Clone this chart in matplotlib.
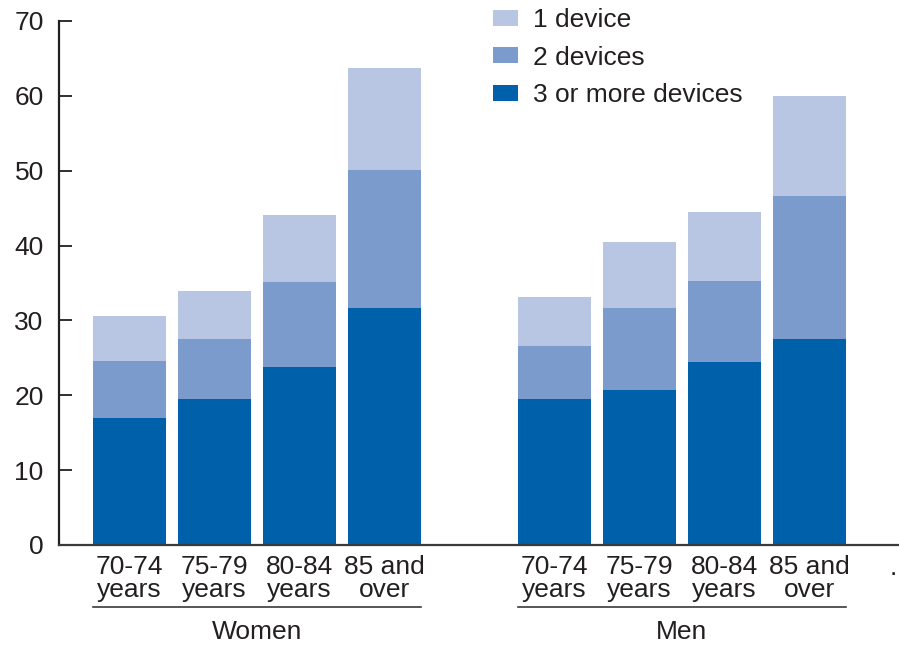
import matplotlib
matplotlib.use("Agg")
import matplotlib.pyplot as plt
from matplotlib.patches import Patch
import numpy as np

plt.rcParams['font.family'] = ['Liberation Sans', 'DejaVu Sans']

age_labels = ["70-74\nyears", "75-79\nyears", "80-84\nyears", "85 and\nover"]
groups = ["Women", "Men"]
series_names = ["1 device", "2 devices", "3 or more devices"]

# values per segment (percent)
women_3plus = [17.0, 19.5, 23.8, 31.7]
women_2 = [7.6, 8.0, 11.3, 18.4]
women_1 = [6.0, 6.4, 9.0, 13.6]
men_3plus = [19.5, 20.7, 24.4, 27.5]
men_2 = [7.1, 11.0, 10.9, 19.1]
men_1 = [6.5, 8.8, 9.2, 13.4]

yticks = [0, 10, 20, 30, 40, 50, 60, 70]

c_dark = "#0060A9"
c_mid = "#7A9BCB"
c_light = "#B8C6E3"
txt = "#231f20"
FS = 19

W, H = 899, 645
fig = plt.figure(figsize=(W / 100, H / 100), dpi=100)
ax = fig.add_axes([59 / W, (H - 545) / H, (W - 59) / W, 524 / H])

x_w = np.arange(4)
x_m = np.arange(4) + 5
bw = 0.86

for xs, s3, s2, s1 in [(x_w, women_3plus, women_2, women_1), (x_m, men_3plus, men_2, men_1)]:
    s3 = np.array(s3); s2 = np.array(s2); s1 = np.array(s1)
    ax.bar(xs, s3, bw, color=c_dark, linewidth=0)
    ax.bar(xs, s2, bw, bottom=s3, color=c_mid, linewidth=0)
    ax.bar(xs, s1, bw, bottom=s3 + s2, color=c_light, linewidth=0)

ax.set_xlim(-0.829, 9.053)
ax.set_ylim(0, 70)
ax.set_yticks(yticks)
ax.tick_params(axis='y', direction='in', length=9, width=1.3, pad=11,
               labelsize=FS, labelcolor=txt, color=txt)
ax.set_xticks(list(x_w) + list(x_m))
ax.set_xticklabels(age_labels * 2, fontsize=FS, linespacing=0.97, color=txt)
ax.tick_params(axis='x', length=0, pad=7)

for s in ['top', 'right']:
    ax.spines[s].set_visible(False)
ax.spines['left'].set_color(txt)
ax.spines['left'].set_linewidth(1.6)
ax.spines['bottom'].set_color("#3a3a3a")
ax.spines['bottom'].set_linewidth(1.6)

trans = ax.get_xaxis_transform()
for xs, name in [(x_w, groups[0]), (x_m, groups[1])]:
    ax.plot([xs[0] - bw / 2, xs[-1] + bw / 2], [-0.118, -0.118], color="#3a3a3a",
            linewidth=1.2, transform=trans, clip_on=False)
    ax.text((xs[0] + xs[-1]) / 2, -0.166, name, transform=trans, ha='center', va='center',
            fontsize=FS, color=txt)

handles = [Patch(facecolor=c_light), Patch(facecolor=c_mid), Patch(facecolor=c_dark)]
leg = ax.legend(handles, series_names, loc='upper left', bbox_to_anchor=(493 / W, 1 - 8 / H),
                bbox_transform=fig.transFigure, frameon=False, fontsize=FS,
                handlelength=0.95, handleheight=0.55, handletextpad=0.55, labelspacing=0.52,
                borderpad=0, borderaxespad=0)
for t in leg.get_texts():
    t.set_color(txt)

fig.text(893 / W, 1 - 568 / H, ".", fontsize=FS, ha='center', va='center', color=txt)

fig.savefig("out.png", dpi=100)
